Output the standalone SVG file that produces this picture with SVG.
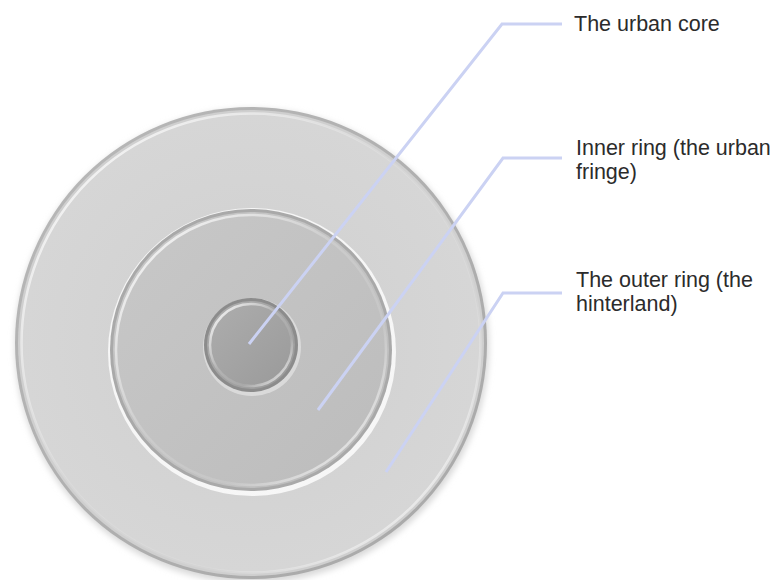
<svg xmlns="http://www.w3.org/2000/svg" width="783" height="580" viewBox="0 0 783 580">
  <style>
    .label { font-family: "Liberation Sans", Arial, sans-serif; font-size: 21.5px; fill: #2b2b2b; }
    .conn { fill: none; stroke: #cbd2f3; stroke-width: 3; stroke-linejoin: miter; }
  </style>
  <defs>
    <linearGradient id="hlTL" x1="0" y1="0" x2="1" y2="1">
      <stop offset="0" stop-color="#ffffff" stop-opacity="0.95"/>
      <stop offset="0.45" stop-color="#ffffff" stop-opacity="0.15"/>
      <stop offset="0.7" stop-color="#ffffff" stop-opacity="0.1"/>
      <stop offset="1" stop-color="#ffffff" stop-opacity="0.9"/>
    </linearGradient>
    <linearGradient id="rimOuter" x1="0" y1="0" x2="1" y2="1">
      <stop offset="0" stop-color="#b8b8b8"/>
      <stop offset="1" stop-color="#a8a8a8"/>
    </linearGradient>
    <radialGradient id="fillOuter" cx="0.5" cy="0.5" r="0.5">
      <stop offset="0" stop-color="#cfcfcf"/>
      <stop offset="1" stop-color="#d6d6d6"/>
    </radialGradient>
    <linearGradient id="fillMid" x1="0" y1="0" x2="1" y2="1">
      <stop offset="0" stop-color="#c8c8c8"/>
      <stop offset="1" stop-color="#bcbcbc"/>
    </linearGradient>
    <linearGradient id="fillCore" x1="0" y1="0" x2="1" y2="1">
      <stop offset="0" stop-color="#aeaeae"/>
      <stop offset="1" stop-color="#999999"/>
    </linearGradient>
    <filter id="soft" x="-10%" y="-10%" width="120%" height="120%">
      <feGaussianBlur stdDeviation="3"/>
    </filter>
  </defs>
  <rect width="783" height="580" fill="#ffffff"/>

  <g id="outer-ring">
    <circle cx="252" cy="346" r="237" fill="#d8d8d8" filter="url(#soft)"/>
    <circle cx="251" cy="343" r="236" fill="url(#rimOuter)"/>
    <circle cx="251" cy="343" r="233" fill="#cfcfcf"/>
    <circle cx="251" cy="343" r="229" fill="url(#fillOuter)"/>
    <circle cx="251" cy="343" r="229.5" fill="none" stroke="url(#hlTL)" stroke-width="2.5"/>
    <text class="label" x="576" y="287">The outer ring (the</text>
    <text class="label" x="576" y="311">hinterland)</text>
  </g>

  <g id="inner-ring">
    <circle cx="252" cy="352" r="144" fill="#ffffff" opacity="0.8"/>
    <circle cx="251" cy="350" r="141" fill="#a9a9a9"/>
    <circle cx="251" cy="350" r="138" fill="url(#fillMid)"/>
    <circle cx="251" cy="350" r="135" fill="none" stroke="url(#hlTL)" stroke-width="2.5"/>
    <text class="label" x="576" y="155">Inner ring (the urban</text>
    <text class="label" x="576" y="179">fringe)</text>
  </g>

  <g id="urban-core">
    <circle cx="252" cy="347" r="49" fill="#e0e0e0" opacity="0.8"/>
    <circle cx="251" cy="345" r="47" fill="#8c8c8c"/>
    <circle cx="251" cy="345" r="44" fill="url(#fillCore)"/>
    <circle cx="251" cy="345" r="41" fill="none" stroke="url(#hlTL)" stroke-width="2.5"/>
    <text class="label" x="574" y="31">The urban core</text>
  </g>

  <g id="connectors">
    <polyline class="conn" points="249,344 502,24 562,24"/>
    <polyline class="conn" points="318,410 503,158 562,158"/>
    <polyline class="conn" points="386,472 503,293 562,293"/>
  </g>
</svg>
